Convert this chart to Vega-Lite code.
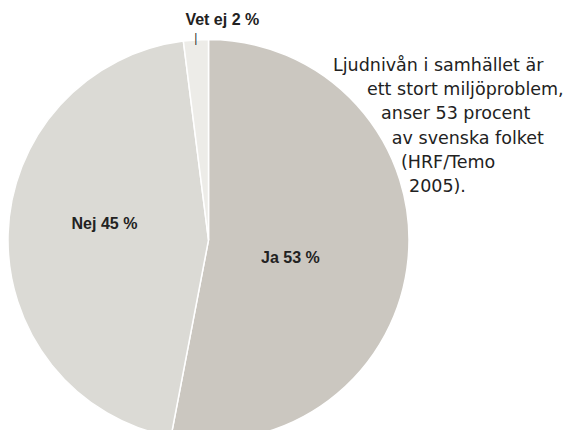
{
  "$schema": "https://vega.github.io/schema/vega-lite/v6.json",
  "width": 417,
  "height": 480,
  "autosize": "none",
  "padding": {"left": 0, "top": 0, "right": 146, "bottom": 0},
  "background": "white",
  "view": {"stroke": null},
  "datasets": {
    "svar": [
      {"svar": "Ja", "procent": 53, "etikett": "Ja 53 %", "ordning": 1, "etikett_ordning": 2},
      {"svar": "Nej", "procent": 45, "etikett": "Nej 45 %", "ordning": 2, "etikett_ordning": 3},
      {"svar": "Vet ej", "procent": 2, "etikett": "Vet ej 2 %", "ordning": 3, "etikett_ordning": 1}
    ],
    "text": [
      {"rad": 0, "rad_text": "Ljudnivån i samhället är"},
      {"rad": 1, "rad_text": "ett stort miljöproblem,"},
      {"rad": 2, "rad_text": "anser 53 procent"},
      {"rad": 3, "rad_text": "av svenska folket"},
      {"rad": 4, "rad_text": "(HRF/Temo"},
      {"rad": 5, "rad_text": "2005)."}
    ]
  },
  "layer": [
    {
      "data": {"name": "svar"},
      "mark": {"type": "arc", "outerRadius": 200.5, "stroke": "white", "strokeWidth": 1.5},
      "encoding": {
        "theta": {"field": "procent", "type": "quantitative", "stack": true},
        "order": {"field": "ordning", "type": "quantitative"},
        "color": {
          "field": "svar",
          "type": "nominal",
          "scale": {"domain": ["Ja", "Nej", "Vet ej"], "range": ["#cbc7c0", "#dbdad5", "#edece8"]},
          "legend": null
        }
      }
    },
    {
      "data": {"name": "svar"},
      "mark": {"type": "text", "font": "Liberation Sans", "fontWeight": "bold", "fontSize": 16, "color": "#222222", "baseline": "middle", "align": "center"},
      "encoding": {
        "theta": {"field": "procent", "type": "quantitative", "stack": true},
        "order": {"field": "etikett_ordning", "type": "quantitative"},
        "radius": {"field": "procent", "type": "quantitative", "scale": {"type": "linear", "domain": [2, 53], "range": [220, 84], "zero": false, "nice": false}},
        "text": {"field": "etikett", "type": "nominal"}
      }
    },
    {
      "data": {"name": "svar"},
      "mark": {"type": "text", "font": "Liberation Sans", "fontSize": 12, "color": "#333333", "baseline": "middle", "align": "center", "radius": 202.5},
      "encoding": {
        "theta": {"field": "procent", "type": "quantitative", "stack": true},
        "order": {"field": "ordning", "type": "quantitative"},
        "text": {"condition": {"test": "datum.svar === 'Vet ej'", "value": "|"}, "value": ""}
      }
    },
    {
      "data": {"name": "text"},
      "mark": {"type": "text", "font": "DejaVu Sans", "fontSize": 17.5, "color": "#222222", "align": "left", "baseline": "alphabetic"},
      "encoding": {
        "x": {"field": "rad", "type": "quantitative", "scale": {"type": "sqrt", "domain": [0, 5], "range": [333, 409], "nice": false, "zero": false}, "axis": null},
        "y": {"field": "rad", "type": "quantitative", "scale": {"domain": [0, 5], "range": [71, 192], "nice": false, "zero": false}, "axis": null},
        "text": {"field": "rad_text", "type": "nominal"}
      }
    }
  ]
}
